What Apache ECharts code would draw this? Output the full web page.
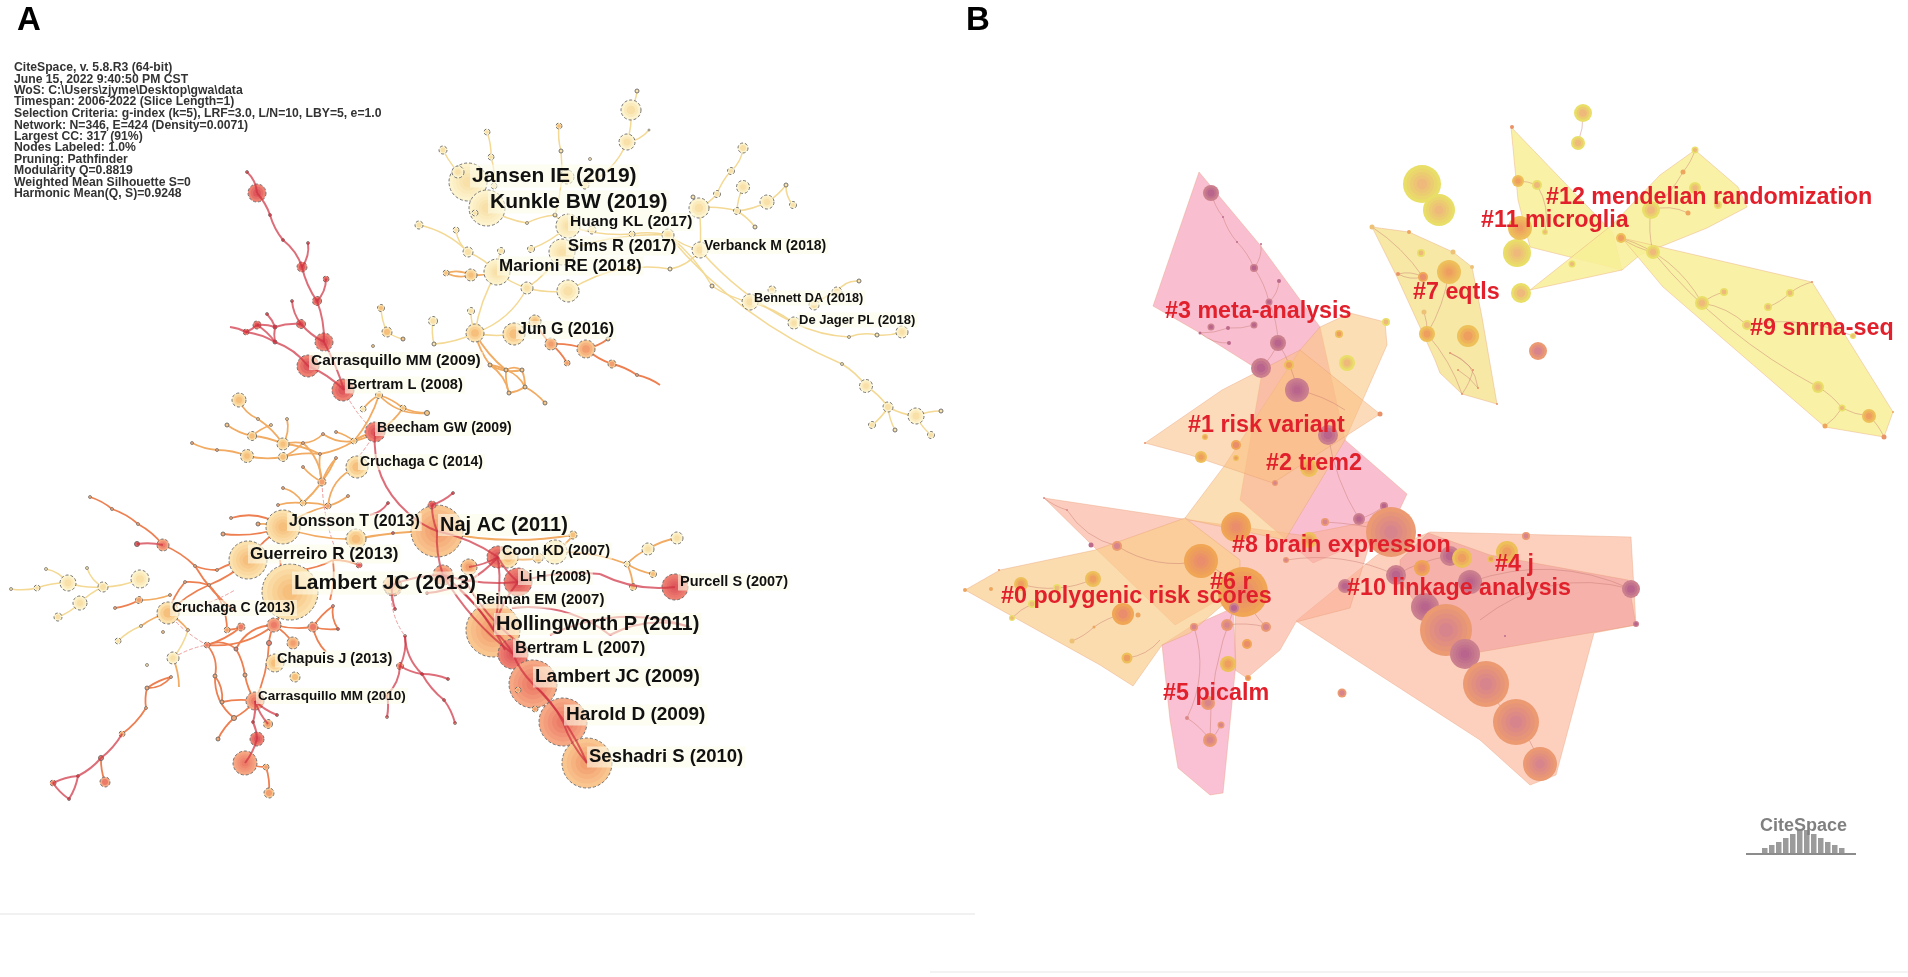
<!DOCTYPE html>
<html>
<head>
<meta charset="utf-8">
<style>html,body{margin:0;padding:0;background:#fff}#chart{width:1908px;height:977px}</style>
<script src="https://cdn.jsdelivr.net/npm/echarts@6/dist/echarts.min.js"></script>
</head>
<body>
<div id="chart"></div>
<script>
// panel A: co-citation network, [x, y, radius, tone]
const nodesA = [
  [631,110,10,0],[637,91,2,0],[627,142,8,0],[649,130,1,0],[559,126,3,1],[561,151,2,0],[487,132,3,0],[443,150,4,0],[491,157,3,0],[590,159,1.5,0],
  [468,182,19,0],[458,172,6,0],[494,186,3,0],[567,177,7,0],[585,185,4,0],[487,208,18,0],[475,213,3,0],[527,223,1.5,0],[555,215,2,0],
  [568,226,12,0],[592,230,4,0],[562,252,13,0],[531,249,3.5,0],[501,251,3.5,0],[419,225,4,0],[456,230,3,0],[468,252,5,0],[497,272,13,0],
  [471,275,6,1],[446,273,3,1],[527,288,6,0],[568,291,11,0],[632,234,3,0],[668,235,6,0],[700,250,8,0],[670,269,2,0],
  [699,208,10,0],[693,197,2,0],[717,194,3.5,0],[731,171,3.5,0],[743,148,5,0],[743,187,6.5,0],[737,211,3.5,0],[755,227,2,0],[767,202,7,0],[786,185,2,0],[793,205,3.5,0],
  [712,286,2,0],[772,290,4,0],[750,302,8,0],[794,323,6,0],[859,281,2,0],[837,292,5,0],[814,305,5,0],[849,337,1.5,0],[877,335,2,0],[902,332,6,0],
  [842,364,1.5,0],[866,386,6.5,0],[888,407,5,0],[916,416,8,0],[941,411,2,0],[872,425,3.5,0],[895,430,2,0],[931,435,3.5,0],
  [475,333,9,1],[471,311,3.5,0],[433,321,4.5,0],[387,332,5,1],[381,308,3.5,1],[403,339,2,1],[434,344,2,0],[373,346,1.5,1],
  [514,334,11,1],[535,321,6,1],[551,344,6,2],[586,349,9,2],[608,339,2,1],[567,363,3,2],[612,364,4,2],[637,375,1.5,2],
  [490,365,2,1],[506,370,2,1],[522,370,2,1],[509,393,2,1],[525,387,2,1],[545,403,2,1],
  [239,400,7,1],[258,419,1.5,1],[227,425,2,1],[252,436,4.5,1],[271,425,1.5,1],[287,419,1.5,1],[283,444,6,1],[192,443,1.5,2],[217,450,1.5,2],[247,456,6.5,1],[283,457,4.5,1],
  [303,443,1.5,2],[323,434,1.5,2],[336,432,1.5,2],[354,441,3,1],[320,454,1.5,2],[336,458,1.5,2],[303,467,1.5,2],[322,482,4,2],[357,467,11,1],
  [379,395,3.5,1],[363,409,3,0],[403,408,3,1],[427,413,2.5,1],[375,432,10,4],[343,390,11,4],[308,366,11,4],[324,342,9,4],
  [283,488,1.5,2],[278,505,1.5,2],[303,503,3,1],[328,506,3,2],[348,496,1.5,2],[388,503,1.5,4],
  [283,527,17,1],[231,518,1.5,2],[258,524,2,2],[223,534,2,2],[356,539,10,1],[248,560,19,1],[359,565,3,4],[393,533,1.5,4],[290,592,28,1],[393,587,9,3],
  [90,497,1.5,2],[112,509,1.5,2],[138,524,1.5,2],[163,545,6,3],[137,544,2.5,4],[195,566,1.5,2],[217,570,1.5,2],[185,582,1.5,2],[209,585,1.5,2],
  [140,579,9,0],[103,587,5,0],[68,583,8,0],[46,569,1.5,0],[87,568,1.5,0],[37,588,3,0],[11,589,1.5,0],[80,603,7,0],[58,617,4,0],[139,600,3.5,2],[115,608,1.5,2],[170,595,1.5,2],[168,613,11,1],
  [141,626,1.5,0],[118,641,3,0],[163,632,1.5,1],[188,630,1.5,1],[173,658,6,0],[147,665,1.5,0],
  [207,645,3,3],[227,630,3,2],[241,627,4,3],[274,625,7,3],[313,627,5,3],[333,606,1.5,3],[338,629,1.5,4],[236,649,2,3],[269,643,2.5,3],[293,643,6,2],[275,663,9,1],[295,677,5,1],
  [255,701,9,3],[215,676,2,2],[245,675,2,2],[222,702,2,2],[234,718,2.5,2],[218,739,2,2],[277,715,1.5,4],[253,722,1.5,4],[268,724,4.5,2],[257,739,7,4],[245,763,12,3],[266,767,3,2],[269,793,5,2],
  [171,677,1.5,2],[147,688,2,2],[146,708,1.5,2],[122,734,3,2],[101,758,2.5,3],[105,782,5,3],[78,776,1.5,3],[53,783,3,3],[69,799,1.5,4],
  [405,636,1.5,3],[400,666,3.5,3],[422,674,1.5,4],[448,679,1.5,4],[444,700,1.5,3],[455,723,1.5,3],[387,717,1.5,3],[387,695,4,0],
  [437,531,26,2],[432,505,4,4],[453,493,1.5,4],[469,567,8,2],[443,575,10,3],[498,557,11,4],[508,558,10,1],[538,558,5,1],[555,552,12,0],[573,535,4,1],
  [648,549,6,0],[627,564,3,0],[653,574,3.5,1],[633,587,3.5,1],[677,538,6,0],[675,587,13,4],[518,582,14,4],[392,585,9,2],[395,609,1.5,4],[427,593,1.5,4],
  [493,630,27,2],[513,654,15,4],[533,684,24,3],[518,690,3,2],[535,709,3,2],[563,722,24,3],[587,763,25,2],
  [247,172,1.5,4],[257,193,9,4],[270,215,1.5,4],[283,240,1.5,4],[302,267,5,4],[308,243,1.5,4],[326,279,3,4],[317,301,4.5,4],[301,324,4.5,4],[292,301,1.5,4],[275,327,2,4],[267,314,1.5,4],[257,325,4,4],[246,332,3,4],[275,342,2,4]
];
const edgesPaleA = [
  [631,110,637,91,0],[631,110,627,142,0],[627,142,649,130,-.2],[627,142,585,185,.2],[559,126,561,151,0],[561,151,555,215,0],[487,132,491,157,.1],[491,157,494,186,0],[443,150,468,182,0],[468,182,487,208,0],
  [487,208,527,223,0],[527,223,555,215,.1],[555,215,568,226,0],[568,226,531,249,0],[568,226,632,234,0],[632,234,668,235,0],[562,252,668,235,.1],[668,235,712,286,.1],[712,286,750,302,-.1],[750,302,794,323,.1],
  [668,235,700,250,0],[700,250,670,269,.2],[670,269,620,270,0],[562,252,527,288,0],[501,251,497,272,0],[419,225,468,252,.15],[456,230,468,252,-.2],[468,252,497,272,0],[497,272,527,288,0],[527,288,475,333,.2],
  [497,272,475,333,0],[568,291,527,288,0],[568,291,625,268,.1],[699,208,737,211,.1],[699,208,717,194,0],[717,194,731,171,0],[731,171,743,148,-.2],[737,211,743,187,0],[737,211,767,202,-.1],[737,211,755,227,0],
  [767,202,786,185,0],[786,185,793,205,-.2],[699,208,700,250,.05],[668,235,842,364,-.12],[842,364,866,386,.1],[866,386,888,407,0],[888,407,916,416,0],[916,416,941,411,0],[916,416,931,435,0],[888,407,872,425,0],
  [888,407,895,430,-.1],[700,250,794,323,-.1],[794,323,849,337,0],[849,337,877,335,.15],[877,335,902,332,0],[814,305,837,292,0],[837,292,859,281,.3],[475,333,471,311,0],[433,321,434,344,0],[387,332,381,308,.1],
  [387,332,403,339,0],[475,333,434,344,0],[475,333,514,334,0],[514,334,535,321,0],[140,579,103,587,.1],[103,587,68,583,0],[68,583,37,588,0],[37,588,11,589,0],[68,583,46,569,-.2],[103,587,87,568,.2],
  [103,587,80,603,0],[80,603,58,617,0],[141,626,118,641,0],[188,630,173,658,.1]
];
const edgesAmberA = [
  [446,273,471,275,.2],[446,273,471,275,-.2],[471,275,497,272,0],[475,333,506,370,-.1],[475,333,490,365,0],[490,365,506,370,0],[506,370,522,370,.3],[490,365,522,370,-.2],[506,370,509,393,0],[522,370,525,387,0],
  [506,370,525,387,.2],[490,365,509,393,.2],[509,393,525,387,0],[525,387,545,403,.1],[239,400,258,419,-.2],[258,419,283,444,0],[227,425,252,436,0],[252,436,283,444,.1],[271,425,252,436,0],[287,419,283,444,.2],
  [192,443,217,450,0],[217,450,247,456,.1],[247,456,283,457,0],[283,444,303,443,0],[283,457,303,443,0],[303,443,323,434,-.2],[323,434,354,441,-.2],[336,432,354,441,0],[283,444,320,454,.1],[283,457,320,454,.1],
  [320,454,354,441,0],[303,443,322,482,.2],[303,467,322,482,0],[320,454,322,482,-.1],[336,458,322,482,0],[354,441,375,432,0],[303,503,336,458,-.1],[283,488,303,503,.2],[278,505,303,503,.1],[303,503,328,506,.1],
  [328,506,348,496,0],[328,506,357,467,.3],[354,441,379,395,-.1],[363,409,379,395,0],[379,395,427,413,-.25],[379,395,403,408,0],[403,408,427,413,0],[354,441,403,408,-.2],[283,527,258,524,0],[283,527,328,506,.1],
  [168,613,141,626,0],[139,600,170,595,-.1],[168,613,188,630,.1],[173,658,179,687,.1],[283,527,356,539,0],[356,539,437,531,.05],[508,558,538,558,0],[538,558,555,552,0],[555,552,627,564,.1],[627,564,648,549,.1],[648,549,677,538,.1],[627,564,633,587,0],[627,564,653,574,0],[573,535,555,552,0],[437,531,573,535,-.1]
];
const edgesCoralA = [
  [535,321,551,344,0],[551,344,586,349,.1],[586,349,608,339,0],[551,344,567,363,0],[586,349,612,364,0],[612,364,637,375,.1],[637,375,660,385,.1],[283,527,231,518,-.25],[283,527,223,534,.12],[248,560,283,527,0],
  [90,497,112,509,.1],[112,509,138,524,.1],[138,524,163,545,.1],[163,545,195,566,.1],[195,566,217,570,0],[217,570,248,560,0],[195,566,236,612,-.1],[185,582,209,585,0],[209,585,248,560,0],[168,613,185,582,.1],
  [168,613,209,585,.1],[209,585,227,630,.2],[227,630,241,627,0],[241,627,207,645,.1],[207,645,236,649,.3],[236,649,274,625,.3],[207,645,274,625,-.2],[207,645,215,676,.25],[215,676,222,702,.2],[222,702,255,701,.1],
  [234,718,255,701,0],[234,718,215,676,.25],[218,739,234,718,.1],[269,643,255,701,.1],[245,675,255,701,0],[236,649,245,675,0],[274,625,269,643,0],[274,625,293,643,0],[274,625,313,627,0],[313,627,333,606,.1],
  [313,627,338,629,0],[333,606,338,629,-.2],[313,627,326,652,-.15],[274,625,290,592,-.1],[171,677,147,688,.25],[171,677,147,688,-.1],[147,688,146,708,0],[146,708,122,734,.1],[101,758,105,782,0],[139,600,115,608,.1],
  [333,560,300,570,.1],[333,560,359,565,0],[333,560,330,600,.1],[290,592,280,560,0],[518,690,587,763,.2],[266,767,269,793,.1],[245,763,266,767,0]
];
const edgesRedA = [
  [247,172,257,193,.2],[257,193,270,215,0],[270,215,283,240,-.1],[283,240,302,267,.15],[302,267,308,243,-.2],[302,267,317,301,-.1],[317,301,326,279,-.2],[317,301,324,342,0],[324,342,344,390,.05],[324,342,301,324,.1],
  [301,324,292,301,.15],[301,324,275,327,-.1],[275,327,257,325,0],[267,314,275,327,0],[275,327,275,342,0],[257,325,275,342,0],[246,332,257,325,0],[230,327,246,332,.1],[246,332,275,342,.1],[275,342,308,366,.15],
  [308,366,344,390,.1],[375,432,408,513,-.25],[408,513,437,531,0],[437,531,432,505,0],[432,505,453,493,-.1],[437,531,498,557,0],[437,531,443,575,0],[443,575,493,630,0],[469,567,498,557,0],[498,557,493,630,0],
  [518,582,493,630,0],[518,582,498,557,0],[443,575,513,654,0],[460,590,505,650,0],[465,580,515,640,0],[493,630,513,654,0],[513,654,533,684,0],[533,684,563,722,.1],[563,722,587,763,0],[533,684,587,763,.1],
  [392,585,395,609,-.1],[392,585,443,575,0],[443,575,518,582,0],[518,582,600,574,.1],[600,574,675,587,-.15],[512,608,610,635,.2],[610,635,690,627,.2],[550,635,690,627,.2],[122,734,101,758,.1],[101,758,78,776,.1],
  [78,776,53,783,0],[78,776,69,799,.1],[53,783,69,799,-.1],[277,715,255,701,0],[253,722,255,701,0],[268,724,255,701,0],[253,722,257,739,.1],[257,739,245,763,0],[405,636,400,666,.15],[405,636,422,674,-.2],
  [400,666,422,674,0],[422,674,448,679,.1],[422,674,444,700,-.1],[444,700,455,723,.1],[400,666,387,695,.2],[387,695,387,717,.1],[388,503,370,515,.2],[137,544,163,545,.1],[498,557,427,593,.2]
];
const edgesDashA = [
  [344,390,375,432,0],[322,482,340,560,-.1],[392,585,405,636,-.2],[173,658,207,645,.1],[168,613,207,645,-.1],[168,613,235,590,-.1],[375,432,345,470,.1]
];

const labelNamesA = ['Jansen IE (2019)','Kunkle BW (2019)','Huang KL (2017)','Sims R (2017)','Verbanck M (2018)','Marioni RE (2018)','Bennett DA (2018)','De Jager PL (2018)','Jun G (2016)','Carrasquillo MM (2009)','Bertram L (2008)','Beecham GW (2009)','Cruchaga C (2014)','Jonsson T (2013)','Naj AC (2011)','Guerreiro R (2013)','Coon KD (2007)','Li H (2008)','Lambert JC (2013)','Purcell S (2007)','Reiman EM (2007)','Cruchaga C (2013)','Hollingworth P (2011)','Bertram L (2007)','Chapuis J (2013)','Lambert JC (2009)','Carrasquillo MM (2010)','Harold D (2009)','Seshadri S (2010)'];
const labelXA = [470,488,568,566,702,497,752,797,516,309,345,375,358,287,438,248,500,518,292,678,474,170,494,513,275,533,256,564,587];
const labelYA = [176,202,222,246,246,266,298,320,330,361,385,428,462,522,525,554,551,577,583,582,600,608,624,648,659,677,696,715,757];
const labelSizeA = [21,21,15.5,16.5,14,17,12.7,13,16,15.5,14.7,14,14,16,20,17,14.5,14,21,14.5,15,14,20,16.5,14.5,19,13.5,19,18.5];

const infoLines = ['CiteSpace, v. 5.8.R3 (64-bit)','June 15, 2022 9:40:50 PM CST','WoS: C:\\Users\\zjyme\\Desktop\\gwa\\data','Timespan: 2006-2022 (Slice Length=1)','Selection Criteria: g-index (k=5), LRF=3.0, L/N=10, LBY=5, e=1.0','Network: N=346, E=424 (Density=0.0071)','Largest CC: 317 (91%)','Nodes Labeled: 1.0%','Pruning: Pathfinder','Modularity Q=0.8819','Weighted Mean Silhouette S=0','Harmonic Mean(Q, S)=0.9248'];
const infoY = [68,79.5,91,102,114,125.5,137,148,159.5,171,183,194];

// panel B: cluster view, hull outlines in paint order
const clusterHulls = [
  [[1199,172],[1260,245],[1320,327],[1345,440],[1407,494],[1390,530],[1313,563],[1240,500],[1262,372],[1200,333],[1153,306]],
  [[1162,645],[1190,627],[1233,608],[1236,663],[1223,793],[1210,795],[1178,768],[1170,720]],
  [[1296,621],[1377,555],[1430,532],[1631,537],[1636,625],[1594,633],[1556,775],[1530,785],[1480,740]],
  [[1400,560],[1428,533],[1490,555],[1628,580],[1636,625],[1560,638],[1480,652],[1420,610],[1400,580]],
  [[1044,498],[1183,519],[1300,535],[1377,520],[1350,608],[1296,622],[1280,650],[1247,678],[1235,670],[1235,590],[1175,625],[1095,548]],
  [[965,590],[1000,570],[1095,550],[1185,518],[1240,560],[1240,590],[1190,633],[1162,645],[1133,686],[1100,665]],
  [[1320,327],[1350,313],[1385,322],[1387,345],[1345,440],[1285,540],[1190,520],[1185,518],[1225,465],[1300,350]],
  [[1145,443],[1222,390],[1300,350],[1380,414],[1273,483],[1190,455]],
  [[1372,227],[1409,232],[1453,252],[1472,267],[1482,317],[1497,404],[1462,394],[1440,373],[1435,360],[1397,277]],
  [[1511,127],[1613,233],[1622,270],[1530,247],[1518,200]],
  [[1695,150],[1738,187],[1747,207],[1707,228],[1640,255],[1622,270],[1530,290],[1612,225],[1660,175]],
  [[1622,238],[1812,282],[1893,412],[1884,437],[1825,427],[1663,287]]
];
const hullFills = ['rgba(247,175,198,0.8)','rgba(247,175,198,0.78)','rgba(252,192,168,0.75)','rgba(232,130,140,0.4)','rgba(250,175,150,0.62)','rgba(250,205,140,0.7)','rgba(250,200,130,0.6)','rgba(250,190,130,0.55)','rgba(246,228,150,0.85)','rgba(248,240,150,0.85)','rgba(248,240,150,0.85)','rgba(248,240,150,0.85)'];

// [x, y, radius, tone]  tones: 0 yellow, 1 gold, 2 orange, 3 coral, 4 mauve
const nodesB = [
  [1211,193,8,4],[1223,217,1,4],[1237,242,1,4],[1261,244,1,4],[1254,268,4,4],[1279,281,2,4],[1269,302,3.5,4],[1211,327,3.5,4],[1228,328,2,4],[1254,325,3.5,4],[1200,333,1.5,4],[1229,343,2,4],[1278,343,8,4],[1261,368,10,4],[1289,365,5,1],[1297,390,12,4],
  [1386,322,4,0],[1339,334,4,1],[1347,363,8,0],[1422,184,19,0],[1439,210,16,0],[1372,227,2.5,0],[1409,232,2,1],[1421,253,4,0],[1453,252,2.5,0],[1449,272,12,1],[1472,267,2,0],[1423,277,5,2],[1398,274,2,2],
  [1521,293,10,0],[1517,253,14,0],[1520,228,12,1],[1427,334,8,1],[1468,336,11,1],[1424,312,2.5,0],[1538,351,9,3],[1512,127,2,2],[1518,181,6,1],[1537,185,5,0],
  [1583,113,9,0],[1578,143,7,0],[1695,150,3.5,0],[1683,172,2.5,1],[1695,188,6,0],[1651,210,9,0],[1688,213,2.5,1],[1718,205,4,0],[1621,238,5,1],[1653,252,7,0],[1572,264,3.5,0],[1545,232,3,0],
  [1702,303,7,0],[1724,292,4,0],[1790,293,4,0],[1768,307,4,0],[1747,325,5,0],[1853,336,3,0],[1818,387,6,0],[1842,408,3.5,0],[1869,416,7,1],[1825,426,2.5,1],[1884,437,2.5,2],[1812,282,1,2],[1893,412,1,1],
  [1450,353,1,2],[1458,370,1,2],[1473,370,1,2],[1478,388,1,2],[1462,394,1,2],[1497,404,1,2],
  [1021,584,7,1],[991,589,2,1],[965,590,2,1],[999,570,1,2],[1057,588,4,0],[1093,579,8,1],[1032,604,4,0],[1012,618,3,0],[1123,614,11,2],[1138,615,2.5,1],[1072,641,2.5,0],[1127,658,5.5,1],[1094,627,1.5,1],[1117,546,5,3],[1091,545,2.5,4],[1044,498,1,3],[1067,510,1,3],
  [1201,457,6,1],[1236,445,5,2],[1236,458,3,1],[1205,437,3,1],[1145,443,1,2],[1380,414,2.5,2],[1328,435,10,4],[1309,468,9,1],[1275,483,3,3],[1236,527,15,2],[1201,561,17,2],[1243,592,25,2],[1234,608,5,4],[1227,625,6,3],[1194,627,4,3],[1266,627,5,3],[1247,644,5,2],[1228,664,8,1],[1248,678,3,2],
  [1208,703,7,3],[1221,725,3.5,3],[1187,718,2,3],[1210,740,7,3],[1342,693,4.5,3],[1286,560,3,3],[1309,540,8,1],[1325,522,4,3],[1359,519,6,4],[1384,506,4,4],[1391,532,25,3],[1345,586,7,4],
  [1396,575,10,4],[1422,568,8,2],[1450,556,10,4],[1462,558,10,1],[1470,582,12,4],[1425,607,14,4],[1446,630,26,3],[1465,654,15,4],[1486,684,23,3],[1516,722,23,3],[1507,552,11,1],[1491,559,3.5,1],[1526,536,4,3],[1540,764,17,3],[1631,589,9,4],[1636,624,3,4],[1505,636,1,4]
];
const edgesB = [
  [1211,193,1223,217,0],[1223,217,1237,242,-.1],[1237,242,1254,268,.1],[1261,244,1254,268,.2],[1254,268,1269,302,.1],[1279,281,1269,302,.2],[1269,302,1278,343,.1],[1200,333,1228,328,-.1],[1228,328,1254,325,0],[1200,333,1229,343,-.2],[1261,368,1278,343,0],[1278,343,1297,390,0],
  [1297,390,1345,410,.1],[1328,435,1359,519,-.1],[1359,519,1384,506,0],[1325,522,1391,532,.05],[1117,546,1067,510,.2],[1067,510,1044,498,0],[1117,546,1201,561,-.2],[1021,584,1057,588,-.1],[1057,588,1093,579,0],[1012,618,1032,604,0],[1123,614,1094,627,0],[1094,627,1072,641,.1],[1127,658,1160,640,-.2],
  [1201,561,1243,592,.1],[1243,592,1266,627,0],[1227,625,1266,627,0],[1234,608,1210,740,-.1],[1194,627,1187,718,.2],[1210,740,1221,725,0],[1187,718,1210,740,0],[1286,560,1396,575,.15],[1396,575,1450,556,.1],[1446,630,1465,654,0],[1465,654,1486,684,0],[1486,684,1516,722,0],[1516,722,1540,764,.1],
  [1470,582,1631,589,.2],[1480,620,1631,589,.25],[1425,607,1446,630,0],[1372,227,1423,277,.1],[1398,274,1423,277,.2],[1398,274,1423,277,-.2],[1449,272,1427,334,.1],[1424,312,1427,334,0],[1427,334,1462,394,.1],[1450,353,1473,370,0],[1458,370,1478,388,.1],[1473,370,1462,394,0],[1450,353,1478,388,.3],
  [1518,181,1537,185,0],[1537,185,1545,232,.2],[1583,113,1578,143,.1],[1695,150,1683,172,.1],[1683,172,1651,210,.1],[1651,210,1688,213,.2],[1651,210,1653,252,-.1],[1621,238,1653,252,0],[1621,238,1702,303,.2],[1702,303,1747,325,.15],[1702,303,1724,292,0],[1653,252,1818,387,-.1],[1818,387,1842,408,.1],[1842,408,1869,416,0],[1842,408,1825,426,0],[1768,307,1790,293,0],[1790,293,1812,282,.1],[1747,325,1853,336,.15],[1869,416,1884,437,0]
];
const clusterNames = ['#12 mendelian randomization','#11 microglia','#7 eqtls','#3 meta-analysis','#1 risk variant','#2 trem2','#8 brain expression','#6 r','#0 polygenic risk scores','#10 linkage analysis','#4 j','#5 picalm','#9 snrna-seq'];
const clusterX = [1546,1481,1413,1165,1188,1266,1232,1210,1001,1347,1495,1163,1750];
const clusterY = [198,221,293,312,426,464,546,583,597,589,565,694,329];

const logoStepX = [1762,1769,1776,1783,1790,1797,1804,1811,1818,1825,1832,1839];
const logoStepH = [5,8,11,15,19,23,23,19,15,11,8,5];

const tonesA = [['#fdf4cf','#f8e0a8'],['#fbe2ae','#f6bf7c'],['#f9c690','#f29e6e'],['#f6a884','#ec7c68'],['#ee8072','#de585c']];
const tonesB = [['#e9df68','#eeb97a'],['#eec05a','#ee9f60'],['#f0a655','#e98d6c'],['#ec9a72','#d8848c'],['#cc808e','#b8648c']];

function lerp(a, b, t) {
  const pa = parseInt(a.slice(1), 16), pb = parseInt(b.slice(1), 16);
  const ch = s => Math.round((pa >> s & 255) * (1 - t) + (pb >> s & 255) * t);
  return 'rgb(' + ch(16) + ',' + ch(8) + ',' + ch(0) + ')';
}

function nodeSeries(data, tones, dashed, z) {
  return {
    type: 'custom', coordinateSystem: 'cartesian2d', data, z, clip: false, silent: true,
    encode: { x: 0, y: 1 },
    renderItem(params, api) {
      const c = api.coord([api.value(0), api.value(1)]);
      const r = api.value(2), pal = tones[api.value(3)];
      const rings = r >= 12 ? 5 : r >= 6 ? 3 : r >= 3 ? 2 : 1;
      const children = [];
      for (let i = 0; i < rings; i++) {
        const t = rings === 1 ? 0.8 : i / (rings - 1);
        children.push({
          type: 'circle',
          shape: { cx: c[0], cy: c[1], r: r * (1 - i / (rings + 0.5)) },
          style: { fill: lerp(pal[0], pal[1], t) }
        });
      }
      if (dashed) {
        children.push({
          type: 'circle',
          shape: { cx: c[0], cy: c[1], r },
          style: { fill: 'none', stroke: '#666', lineWidth: r >= 2 ? 0.9 : 0.7, lineDash: r >= 3 ? [3, 2] : null }
        });
      }
      return { type: 'group', children };
    }
  };
}

// edges with no curve read off the picture still get a slight bend, like the layout's splines
function edgeSeries(rows, color, width, z, opacity, dash) {
  return {
    type: 'lines', coordinateSystem: 'cartesian2d', z, silent: true,
    lineStyle: { color, width, opacity: opacity || 1, type: dash || 'solid' },
    data: rows.map((e, i) => ({
      coords: [[e[0], e[1]], [e[2], e[3]]],
      lineStyle: { curveness: e[4] === 0 ? (i % 2 ? 0.1 : -0.1) : e[4] }
    }))
  };
}

function ruleSeries(x1, y1, x2, y2, color, width, z) {
  return {
    type: 'lines', coordinateSystem: 'cartesian2d', z, silent: true,
    lineStyle: { color, width, opacity: 1 },
    data: [{ coords: [[x1, y1], [x2, y2]] }]
  };
}

function textSeries(names, xs, ys, sizes, label, z) {
  return {
    type: 'scatter', coordinateSystem: 'cartesian2d', symbolSize: 0, z, silent: true, clip: false,
    itemStyle: { opacity: 1 },
    data: names.map((n, i) => ({
      value: [xs[i], ys[i]], name: n,
      label: { fontSize: Array.isArray(sizes) ? sizes[i] : sizes }
    })),
    label: Object.assign({ show: true, position: 'right', distance: 0, formatter: p => p.name, fontFamily: 'Liberation Sans' }, label)
  };
}

const hullSeries = {
  type: 'custom', coordinateSystem: 'cartesian2d', z: 1, silent: true, clip: false,
  data: clusterHulls.map((h, i) => [h[0][0], h[0][1], i]),
  encode: { x: 0, y: 1 },
  renderItem(params, api) {
    const i = api.value(2);
    return {
      type: 'polygon',
      shape: { points: clusterHulls[i].map(p => api.coord(p)) },
      style: { fill: hullFills[i], stroke: 'rgba(230,150,110,0.45)', lineWidth: 0.8 }
    };
  }
};

const logoSeries = {
  type: 'custom', coordinateSystem: 'cartesian2d', z: 8, silent: true, clip: false,
  data: logoStepX.map((x, i) => [x, logoStepH[i]]),
  encode: { x: 0, y: 1 },
  renderItem(params, api) {
    const base = api.coord([api.value(0), 853]);
    const top = api.coord([api.value(0), 853 - api.value(1)]);
    return {
      type: 'rect',
      shape: { x: base[0], y: top[1], width: 5.5, height: base[1] - top[1] },
      style: { fill: '#9b9b9b' }
    };
  }
};

const chart = echarts.init(document.getElementById('chart'), null, { renderer: 'canvas' });
chart.setOption({
  animation: false,
  backgroundColor: '#fff',
  grid: { left: 0, right: 0, top: 0, bottom: 0 },
  xAxis: { type: 'value', min: 0, max: 1908, show: false },
  yAxis: { type: 'value', min: 0, max: 977, inverse: true, show: false },
  series: [
    edgeSeries(edgesPaleA, '#f4d994', 1.5, 2),
    edgeSeries(edgesAmberA, '#f2ab62', 1.8, 2),
    edgeSeries(edgesCoralA, '#ee7f50', 1.8, 2),
    edgeSeries(edgesDashA, '#f0a0a0', 1, 2, 1, 'dashed'),
    nodeSeries(nodesA, tonesA, true, 3),
    edgeSeries(edgesRedA, '#cf3040', 2, 4, 0.7),
    textSeries(labelNamesA, labelXA, labelYA, labelSizeA, { color: '#111', fontWeight: 'bold', backgroundColor: 'rgba(254,252,232,0.6)', padding: [1, 2] }, 6),
    textSeries(infoLines, infoLines.map(() => 14), infoY, 12.2, { color: '#333', fontWeight: 'bold' }, 6),
    textSeries(['A', 'B'], [17, 966], [21, 21], 33, { color: '#000', fontWeight: 'bold' }, 6),
    hullSeries,
    edgeSeries(edgesB, '#c87a70', 1, 2, 0.45),
    nodeSeries(nodesB, tonesB, false, 3),
    textSeries(clusterNames, clusterX, clusterY, 23.3, { color: '#e1202c', fontWeight: 'bold' }, 7),
    logoSeries,
    textSeries(['CiteSpace'], [1760], [826], 18, { color: '#808080', fontWeight: 'bold' }, 8),
    ruleSeries(1746, 854, 1856, 854, '#8c8c8c', 2, 8),
    ruleSeries(0, 914, 975, 914, '#ececec', 1.5, 1),
    ruleSeries(930, 972, 1908, 972, '#efefef', 1.5, 1)
  ]
});
</script>
</body>
</html>
